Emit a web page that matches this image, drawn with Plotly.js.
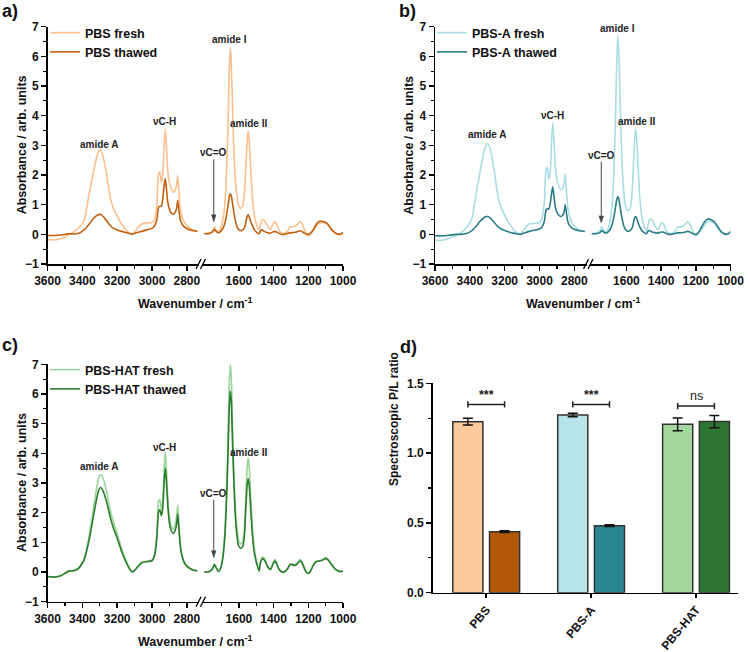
<!DOCTYPE html>
<html>
<head>
<meta charset="utf-8">
<script src="https://cdn.plot.ly/plotly-3.0.1.min.js"></script>
<style>
  html, body { margin: 0; padding: 0; background: #ffffff; }
  #chart { width: 750px; height: 652px; }
</style>
</head>
<body>
<div id="chart"></div>
<script>
// ---------- FTIR spectra: wavenumber grids (cm-1) ----------
const wnHigh = [
  3600, 3560, 3520, 3480, 3450, 3420, 3390,
  3360, 3340, 3320, 3305, 3295, 3280, 3260,
  3240, 3220, 3200, 3175, 3150, 3125, 3110,
  3090, 3060, 3030, 3000, 2985, 2972, 2962,
  2955, 2946, 2938, 2930, 2924, 2918, 2910,
  2900, 2890, 2878, 2866, 2858, 2852, 2846,
  2838, 2828, 2815, 2800, 2780, 2760, 2740
];
const wnLow = [
  1800, 1770, 1752, 1742, 1732, 1718, 1705, 1692, 1680, 1670, 1662,
  1656, 1650, 1644, 1637, 1628, 1616, 1603, 1590, 1578, 1568, 1560,
  1553, 1547, 1541, 1533, 1523, 1510, 1496, 1484, 1476, 1466, 1456,
  1446, 1432, 1418, 1404, 1394, 1384, 1370, 1355, 1340, 1320, 1305,
  1290, 1275, 1260, 1248, 1238, 1225, 1212, 1200, 1188, 1175, 1160,
  1145, 1130, 1115, 1100, 1085, 1070, 1055, 1040, 1025, 1010, 1000
];

// ---------- PBS ----------
const pbsFreshHigh = [
  -0.17, -0.19, -0.14, -0.02, 0.08, 0.22, 0.45,
  1.4, 2.0, 2.55, 2.82, 2.85, 2.6, 2.0,
  1.25, 0.85, 0.62, 0.35, 0.15, 0.03, 0.0,
  0.15, 0.35, 0.38, 0.4, 0.5, 1.0, 2.05,
  2.1, 1.75, 2.0, 3.0, 3.55, 3.1, 2.2,
  1.75, 1.55, 1.42, 1.5, 1.7, 1.98, 1.5,
  0.9, 0.6, 0.42, 0.3, 0.2, 0.14, 0.1
];
const pbsThawedHigh = [
  -0.04, -0.04, -0.02, 0.02, 0.01, 0.04, 0.15,
  0.35, 0.5, 0.62, 0.67, 0.67, 0.6, 0.45,
  0.3, 0.2, 0.15, 0.1, 0.06, 0.02, 0.01,
  0.05, 0.1, 0.15, 0.2, 0.28, 0.5, 0.92,
  0.95, 0.95, 1.2, 1.65, 1.87, 1.6, 1.1,
  0.85, 0.72, 0.68, 0.75, 0.9, 1.15, 0.85,
  0.5, 0.35, 0.25, 0.2, 0.15, 0.12, 0.1
];
const pbsFreshLow = [
  0.02, 0.05, 0.12, 0.25, 0.15, 0.08, 0.2, 0.5, 1.1, 2.3, 3.9,
  5.4, 6.3, 5.8, 4.3, 2.7, 1.55, 1.0, 0.88, 0.95, 1.4, 2.3,
  3.1, 3.5, 3.2, 2.3, 1.3, 0.6, 0.3, 0.15, 0.3, 0.5, 0.48,
  0.4, 0.25, 0.15, 0.35, 0.42, 0.35, 0.15, 0.05, 0.03, 0.1, 0.25,
  0.25, 0.28, 0.35, 0.42, 0.38, 0.2, 0.02, -0.05, 0.0, 0.1, 0.22,
  0.33, 0.38, 0.4, 0.38, 0.3, 0.18, 0.08, 0.03, 0.0, 0.0, 0.05
];
const pbsThawedLow = [
  0.02, 0.03, 0.08, 0.16, 0.1, 0.05, 0.1, 0.2, 0.4, 0.7, 1.0,
  1.25, 1.37, 1.3, 1.05, 0.7, 0.35, 0.17, 0.12, 0.15, 0.22, 0.4,
  0.6, 0.67, 0.6, 0.45, 0.3, 0.15, 0.06, 0.02, 0.12, 0.15, 0.1,
  0.08, 0.05, 0.04, 0.08, 0.1, 0.08, 0.04, 0.0, 0.0, 0.03, 0.05,
  0.06, 0.07, 0.1, 0.12, 0.1, 0.05, 0.01, 0.0, 0.04, 0.12, 0.28,
  0.4, 0.45, 0.43, 0.4, 0.33, 0.2, 0.1, 0.03, 0.0, 0.02, 0.08
];

// ---------- PBS-A ----------
const pbsAFreshHigh = [
  -0.2, -0.2, -0.14, -0.03, 0.06, 0.22, 0.5,
  1.5, 2.15, 2.75, 3.02, 3.05, 2.8, 2.15,
  1.35, 0.9, 0.65, 0.38, 0.17, 0.03, 0.0,
  0.15, 0.35, 0.37, 0.4, 0.55, 1.1, 2.2,
  2.25, 1.85, 2.1, 3.2, 3.75, 3.3, 2.35,
  1.85, 1.65, 1.5, 1.55, 1.75, 2.05, 1.55,
  0.95, 0.6, 0.4, 0.28, 0.18, 0.13, 0.1
];
const pbsAThawedHigh = [
  -0.05, -0.05, -0.03, 0.0, 0.0, 0.03, 0.12,
  0.3, 0.45, 0.56, 0.6, 0.6, 0.54, 0.4,
  0.27, 0.18, 0.13, 0.08, 0.04, 0.01, 0.0,
  0.04, 0.1, 0.14, 0.18, 0.25, 0.45, 0.83,
  0.86, 0.86, 1.05, 1.4, 1.6, 1.35, 0.95,
  0.75, 0.65, 0.6, 0.65, 0.78, 1.0, 0.75,
  0.45, 0.3, 0.22, 0.17, 0.13, 0.11, 0.1
];
const pbsAFreshLow = [
  0.02, 0.05, 0.12, 0.25, 0.14, 0.08, 0.2, 0.55, 1.2, 2.5, 4.2,
  5.8, 6.7, 6.2, 4.6, 2.8, 1.5, 0.9, 0.8, 0.88, 1.35, 2.3,
  3.15, 3.55, 3.25, 2.3, 1.25, 0.55, 0.25, 0.12, 0.3, 0.5, 0.5,
  0.4, 0.25, 0.15, 0.32, 0.4, 0.33, 0.12, 0.04, 0.03, 0.1, 0.25,
  0.25, 0.28, 0.35, 0.42, 0.38, 0.2, 0.02, -0.05, 0.0, 0.1, 0.22,
  0.35, 0.42, 0.43, 0.4, 0.32, 0.2, 0.08, 0.03, 0.0, 0.02, 0.07
];
const pbsAThawedLow = [
  0.02, 0.03, 0.06, 0.13, 0.08, 0.04, 0.08, 0.18, 0.38, 0.65, 0.95,
  1.17, 1.27, 1.2, 0.95, 0.62, 0.3, 0.15, 0.1, 0.13, 0.2, 0.38,
  0.55, 0.6, 0.55, 0.4, 0.25, 0.12, 0.05, 0.02, 0.1, 0.13, 0.09,
  0.07, 0.05, 0.04, 0.07, 0.08, 0.07, 0.03, 0.0, 0.0, 0.03, 0.05,
  0.05, 0.06, 0.08, 0.1, 0.09, 0.05, 0.01, 0.0, 0.05, 0.15, 0.32,
  0.45, 0.52, 0.5, 0.45, 0.36, 0.22, 0.1, 0.03, 0.0, 0.03, 0.1
];

// ---------- PBS-HAT ----------
const pbsHatFreshHigh = [
  -0.15, -0.17, -0.12, 0.03, 0.05, 0.15, 0.45,
  1.25, 2.0, 2.75, 3.2, 3.28, 3.15, 2.7,
  2.1, 1.65, 1.3, 0.8, 0.4, 0.08, 0.0,
  0.12, 0.32, 0.36, 0.4, 0.6, 1.3, 2.4,
  2.45, 2.1, 2.45, 3.5, 4.05, 3.6, 2.6,
  1.85, 1.55, 1.45, 1.6, 1.9, 2.25, 1.7,
  1.0, 0.6, 0.35, 0.22, 0.12, 0.07, 0.04
];
const pbsHatThawedHigh = [
  -0.15, -0.17, -0.12, 0.03, 0.04, 0.13, 0.4,
  1.1, 1.75, 2.4, 2.78, 2.85, 2.72, 2.35,
  1.85, 1.45, 1.15, 0.7, 0.35, 0.07, 0.0,
  0.12, 0.31, 0.35, 0.38, 0.55, 1.15, 2.05,
  2.1, 1.9, 2.15, 3.05, 3.5, 3.15, 2.3,
  1.65, 1.4, 1.3, 1.42, 1.65, 1.95, 1.5,
  0.9, 0.55, 0.32, 0.2, 0.11, 0.06, 0.04
];
const pbsHatFreshLow = [
  0.0, 0.02, 0.12, 0.28, 0.18, 0.02, 0.15, 0.6, 1.5, 3.0, 4.8,
  6.3, 7.0, 6.6, 5.0, 3.2, 1.8, 1.1, 0.95, 1.0, 1.5, 2.6,
  3.5, 3.85, 3.6, 2.7, 1.6, 0.75, 0.3, 0.05, 0.35, 0.5, 0.48,
  0.38, 0.18, 0.1, 0.3, 0.42, 0.35, 0.12, 0.02, 0.0, 0.12, 0.28,
  0.27, 0.25, 0.33, 0.42, 0.38, 0.18, 0.0, -0.05, 0.02, 0.2, 0.35,
  0.38, 0.4, 0.43, 0.48, 0.42, 0.3, 0.18, 0.08, 0.03, 0.02, 0.02
];
const pbsHatThawedLow = [
  0.0, 0.02, 0.1, 0.25, 0.15, 0.02, 0.12, 0.5, 1.3, 2.6, 4.2,
  5.5, 6.1, 5.75, 4.4, 2.8, 1.5, 0.9, 0.8, 0.85, 1.25, 2.15,
  2.9, 3.15, 2.95, 2.2, 1.3, 0.6, 0.25, 0.03, 0.3, 0.45, 0.42,
  0.33, 0.15, 0.08, 0.26, 0.37, 0.3, 0.1, 0.01, 0.0, 0.1, 0.25,
  0.24, 0.22, 0.3, 0.37, 0.33, 0.15, 0.0, -0.05, 0.02, 0.18, 0.32,
  0.36, 0.38, 0.41, 0.46, 0.4, 0.28, 0.17, 0.07, 0.03, 0.02, 0.02
];

// ---------- spectroscopic P/L ratio (bar panel) ----------
const groups = ['PBS', 'PBS-A', 'PBS-HAT'];
const plFresh = [1.225, 1.273, 1.206];
const plFreshErr = [0.024, 0.013, 0.046];
const plThawed = [0.437, 0.480, 1.226];
const plThawedErr = [0.006, 0.006, 0.044];
const sigLabels = ['***', '***', 'ns'];
const sigLevels = [1.349, 1.349, 1.337];

// ---------- styling ----------
const FONT = 'Liberation Sans, Arial, Helvetica, sans-serif';
const W = 750, H = 652;
const px = v => v / W;
const py = v => 1 - v / H;

const colors = {
  pbsFresh: '#fbc08e', pbsThawed: '#c2600f',
  aFresh: '#a9dde3', aThawed: '#2a7d87',
  hatFresh: '#9ad49a', hatThawed: '#2c7d2e'
};
const barFresh = ['#fbc99b', '#b7e4e9', '#a2d89e'];
const barThawed = ['#b35806', '#2a8590', '#2e7433'];

// panel frames in pixels: [left, break-left, break-right, right, top, bottom]
const frames = {
  a: [47.5, 199, 202.5, 343, 26.7, 264],
  b: [435, 586.5, 590, 730.5, 26.7, 264],
  c: [47.5, 199, 202.5, 343, 364.3, 601.7]
};

const tickFont = { family: FONT, size: 12, color: '#111', weight: 'bold' };

function xAxisSpec(dom, range, tickvals, minorvals, anchor) {
  return {
    domain: dom, range: range, anchor: anchor,
    tickmode: 'array', tickvals: tickvals,
    ticks: 'outside', ticklen: 5, tickwidth: 1.5, tickcolor: '#000',
    minor: { tickmode: 'array', tickvals: minorvals, ticks: 'outside', ticklen: 3, tickwidth: 1.2, tickcolor: '#000' },
    showline: true, linewidth: 1.5, linecolor: '#000',
    showgrid: false, zeroline: false, tickfont: tickFont, fixedrange: true
  };
}
function yAxisSpec(dom, anchor) {
  return {
    domain: dom, range: [-1, 7], anchor: anchor,
    tick0: 0, dtick: 1,
    ticks: 'outside', ticklen: 5, tickwidth: 1.5, tickcolor: '#000',
    minor: { dtick: 0.5, ticks: 'outside', ticklen: 3, tickwidth: 1.2, tickcolor: '#000' },
    showline: true, linewidth: 1.5, linecolor: '#000',
    showgrid: false, zeroline: false, tickfont: tickFont, fixedrange: true
  };
}

const traces = [];
function addSpectrum(name, hi, lo, color, xa1, xa2, ya, legendId) {
  const line = { color: color, width: 1.6, shape: 'spline', smoothing: 0.5 };
  traces.push({ type: 'scatter', mode: 'lines', x: wnHigh, y: hi, xaxis: xa1, yaxis: ya,
    name: name, line: line, legend: legendId, showlegend: true, hoverinfo: 'skip' });
  traces.push({ type: 'scatter', mode: 'lines', x: wnLow, y: lo, xaxis: xa2, yaxis: ya,
    name: name, line: line, legend: legendId, showlegend: false, hoverinfo: 'skip' });
}

addSpectrum('PBS fresh', pbsFreshHigh, pbsFreshLow, colors.pbsFresh, 'x', 'x2', 'y', 'legend');
addSpectrum('PBS thawed', pbsThawedHigh, pbsThawedLow, colors.pbsThawed, 'x', 'x2', 'y', 'legend');
addSpectrum('PBS-A fresh', pbsAFreshHigh, pbsAFreshLow, colors.aFresh, 'x3', 'x4', 'y2', 'legend2');
addSpectrum('PBS-A thawed', pbsAThawedHigh, pbsAThawedLow, colors.aThawed, 'x3', 'x4', 'y2', 'legend2');
addSpectrum('PBS-HAT fresh', pbsHatFreshHigh, pbsHatFreshLow, colors.hatFresh, 'x5', 'x6', 'y3', 'legend3');
addSpectrum('PBS-HAT thawed', pbsHatThawedHigh, pbsHatThawedLow, colors.hatThawed, 'x5', 'x6', 'y3', 'legend3');

const groupIdx = groups.map((g, i) => i);
traces.push({
  type: 'bar', x: groupIdx, y: plFresh, xaxis: 'x7', yaxis: 'y4', name: 'fresh', showlegend: false,
  marker: { color: barFresh, line: { color: '#333', width: 1.5 } },
  error_y: { type: 'data', array: plFreshErr, visible: true, color: '#111', thickness: 1.5, width: 5 },
  hoverinfo: 'skip'
});
traces.push({
  type: 'bar', x: groupIdx, y: plThawed, xaxis: 'x7', yaxis: 'y4', name: 'thawed', showlegend: false,
  marker: { color: barThawed, line: { color: '#333', width: 1.5 } },
  error_y: { type: 'data', array: plThawedErr, visible: true, color: '#111', thickness: 1.5, width: 5 },
  hoverinfo: 'skip'
});

const layout = {
  width: W, height: H, autosize: false,
  margin: { l: 0, r: 0, t: 0, b: 0 },
  paper_bgcolor: '#ffffff', plot_bgcolor: 'rgba(0,0,0,0)',
  font: { family: FONT, color: '#111' },
  barmode: 'group', bargap: 0.3, bargroupgap: 0.18,
  shapes: [], annotations: []
};

const hiTicks = [3600, 3400, 3200, 3000, 2800], hiMinor = [3500, 3300, 3100, 2900];
const loTicks = [1600, 1400, 1200, 1000], loMinor = [1700, 1500, 1300, 1100];
const hiRange = [3600, 2730], loRange = [1810, 1000];

const axisIds = { a: ['', '2', ''], b: ['3', '4', '2'], c: ['5', '6', '3'] };
Object.keys(frames).forEach(k => {
  const f = frames[k];
  const [x1, x2, yy] = axisIds[k];
  const yDom = [py(f[5]), py(f[4])];
  layout['xaxis' + x1] = xAxisSpec([px(f[0]), px(f[1])], hiRange, hiTicks, hiMinor, 'y' + yy);
  layout['xaxis' + x2] = xAxisSpec([px(f[2]), px(f[3])], loRange, loTicks, loMinor, 'y' + yy);
  layout['yaxis' + yy] = yAxisSpec(yDom, 'x' + x1);
  // axis break marks
  const bx = (f[1] + f[2]) / 2;
  [-2.2, 2.2].forEach(d => {
    layout.shapes.push({ type: 'line', xref: 'paper', yref: 'paper',
      x0: px(bx + d - 2.5), y0: py(f[5] + 5), x1: px(bx + d + 2.5), y1: py(f[5] - 5),
      line: { color: '#000', width: 1.3 } });
  });
  // axis titles
  layout.annotations.push({ xref: 'paper', yref: 'paper', x: px((f[0] + f[3]) / 2), y: py(f[5] + 39),
    text: 'Wavenumber / cm<sup>-1</sup>', showarrow: false, xanchor: 'center', yanchor: 'middle',
    font: { family: FONT, size: 12.5, color: '#111', weight: 'bold' } });
  layout.annotations.push({ xref: 'paper', yref: 'paper', x: px(f[0] - 25.5), y: py((f[4] + f[5]) / 2),
    text: 'Absorbance / arb. units', textangle: -90, showarrow: false, xanchor: 'center', yanchor: 'middle',
    font: { family: FONT, size: 12.5, color: '#111', weight: 'bold' } });
});

// bar panel axes
layout.xaxis7 = {
  domain: [px(432.7), px(738)], range: [-0.51, 2.4], anchor: 'y4',
  tickmode: 'array', tickvals: groupIdx, ticktext: groups, tickangle: -50,
  ticks: 'outside', ticklen: 4, tickwidth: 1.5, tickcolor: '#000',
  showline: true, linewidth: 1.5, linecolor: '#000', showgrid: false, zeroline: false,
  tickfont: { family: FONT, size: 12, color: '#111', weight: 'bold' }, fixedrange: true
};
layout.yaxis4 = {
  domain: [py(592.7), py(383.3)], range: [0, 1.5], anchor: 'x7',
  tick0: 0, dtick: 0.5, tickformat: '.1f',
  ticks: 'outside', ticklen: 5, tickwidth: 1.5, tickcolor: '#000',
  minor: { dtick: 0.25, ticks: 'outside', ticklen: 3, tickwidth: 1.2, tickcolor: '#000' },
  showline: true, linewidth: 1.5, linecolor: '#000', showgrid: false, zeroline: false,
  tickfont: tickFont, fixedrange: true
};
layout.annotations.push({ xref: 'paper', yref: 'paper', x: px(394), y: py(488),
  text: 'Spectroscopic P/L ratio', textangle: -90, showarrow: false,
  font: { family: FONT, size: 12, color: '#111', weight: 'bold' } });

// significance brackets
const half = 0.175, cap = 0.022;
groupIdx.forEach(i => {
  const lv = sigLevels[i];
  const ln = { color: '#222', width: 1.5 };
  layout.shapes.push({ type: 'line', xref: 'x7', yref: 'y4', x0: i - half, x1: i + half, y0: lv, y1: lv, line: ln });
  layout.shapes.push({ type: 'line', xref: 'x7', yref: 'y4', x0: i - half, x1: i - half, y0: lv - cap, y1: lv + cap, line: ln });
  layout.shapes.push({ type: 'line', xref: 'x7', yref: 'y4', x0: i + half, x1: i + half, y0: lv - cap, y1: lv + cap, line: ln });
  layout.annotations.push({ xref: 'x7', yref: 'y4', x: i, y: lv + 0.005, yanchor: 'bottom',
    text: sigLabels[i], showarrow: false,
    font: { family: FONT, size: 12.5, color: '#222', weight: sigLabels[i] === 'ns' ? 'normal' : 'bold' } });
});

// band labels, plus the pointer arrow to the carbonyl band
function bandLabels(xa1, xa2, ya, pos) {
  const f = { family: FONT, size: 10, color: '#222', weight: 'bold' };
  const lab = (xa, x, y, t) => layout.annotations.push({ xref: xa, yref: ya, x: x, y: y, text: t,
    showarrow: false, xanchor: 'center', yanchor: 'middle', font: f });
  lab(xa1, 3300, pos[0], 'amide A');
  lab(xa1, 2928, pos[1], '\u03bdC-H');
  lab(xa2, 1654, pos[2], 'amide I');
  lab(xa2, 1543, pos[3], 'amide II');
  lab(xa2, 1745, pos[4], '\u03bdC=O');
  const tip = pos[5], headH = 0.24, headW = 13, x0 = 1745;
  layout.shapes.push({ type: 'line', xref: xa2, yref: ya, x0: x0, x1: x0, y0: pos[4] - 0.22, y1: tip + headH,
    line: { color: '#444', width: 1 } });
  layout.shapes.push({ type: 'path', xref: xa2, yref: ya,
    path: 'M ' + x0 + ',' + tip + ' L ' + (x0 + headW) + ',' + (tip + headH) + ' L ' + (x0 - headW) + ',' + (tip + headH) + ' Z',
    fillcolor: '#444', line: { color: '#444', width: 0.5 } });
}
bandLabels('x', 'x2', 'y', [3.04, 3.8, 6.57, 3.72, 2.75, 0.42]);
bandLabels('x3', 'x4', 'y2', [3.35, 4.02, 6.95, 3.8, 2.67, 0.38]);
bandLabels('x5', 'x6', 'y3', [3.54, 4.21, 7.31, 4.04, 2.66, 0.48]);

// panel letters
[['a)', 0, 11], ['b)', 397, 11], ['c)', 0, 345], ['d)', 398, 347]].forEach(p => {
  layout.annotations.push({ xref: 'paper', yref: 'paper', x: px(p[1]), y: py(p[2]), text: p[0],
    showarrow: false, xanchor: 'left', yanchor: 'middle',
    font: { family: FONT, size: 18, color: '#111', weight: 'bold' } });
});

// legends
const legFont = { family: FONT, size: 12.5, color: '#111', weight: 'bold' };
const legBase = { bgcolor: 'rgba(0,0,0,0)', borderwidth: 0, font: legFont, itemwidth: 30,
  xanchor: 'left', yanchor: 'top', tracegroupgap: 0, itemclick: false, itemdoubleclick: false };
layout.legend = Object.assign({}, legBase, { x: px(45), y: py(18) });
layout.legend2 = Object.assign({}, legBase, { x: px(432), y: py(18) });
layout.legend3 = Object.assign({}, legBase, { x: px(45), y: py(355) });

Plotly.newPlot('chart', traces, layout, { displayModeBar: false, staticPlot: true });
</script>
</body>
</html>
